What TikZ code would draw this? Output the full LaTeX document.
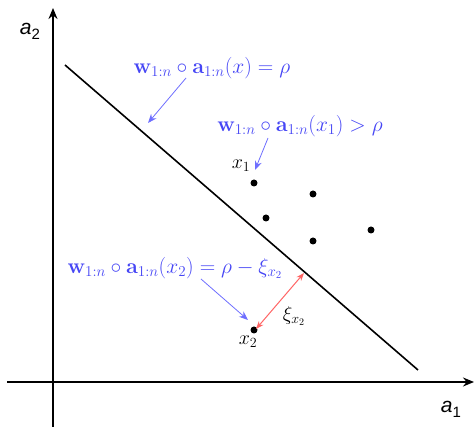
\documentclass[tikz,border=0pt]{standalone}
\usepackage{fix-cm}
\usepackage{amsmath}
\usepackage[no-math]{fontspec}
\newfontfamily\axisfont{Liberation Sans}
\usetikzlibrary{arrows.meta}
\definecolor{lblue}{RGB}{70,70,245}
\definecolor{ablue}{RGB}{110,110,255}
\definecolor{lred}{RGB}{255,100,100}
\tikzset{
  axis/.style={line width=1.6pt,-{Stealth[length=11pt,width=9pt]}},
  dot/.style={circle,fill=black,inner sep=0pt,minimum size=7pt},
  blab/.style={text=lblue,font=\fontsize{21.5}{25}\selectfont,inner sep=0pt},
  klab/.style={text=black,font=\fontsize{20}{24}\selectfont,inner sep=0pt},
  alab/.style={font=\axisfont\fontsize{21}{24}\selectfont,inner sep=0pt},
  barrow/.style={ablue,line width=0.8pt,-{Stealth[length=9pt,width=7pt]}},
  rarrow/.style={lred,line width=1pt,{Stealth[length=8pt,width=6pt]}-{Stealth[length=8pt,width=6pt]}},
}
\begin{document}
\begin{tikzpicture}[x=1pt,y=-1pt]
\useasboundingbox (0,0) rectangle (475,427);
% axes
\coordinate (yb) at (53,427);
\coordinate (yt) at (53,8);
\coordinate (xl) at (7,382);
\coordinate (xr) at (474,382);
\draw[axis] (yb) -- (yt);
\draw[axis] (xl) -- (xr);
\node[alab] (a2) at (30,31) {\itshape a\upshape\raisebox{-5pt}{\fontsize{15}{17}\selectfont 2}};
\node[alab] (a1) at (451,409) {\itshape a\upshape\raisebox{-5pt}{\fontsize{15}{17}\selectfont 1}};
% separating line
\coordinate (l1) at (65,65);
\coordinate (l2) at (418,370);
\draw[line width=1.6pt] (l1) -- (l2);
% points
\node[dot] (p1) at (254,183) {};
\node[dot] (p2) at (313,194) {};
\node[dot] (p3) at (266,218) {};
\node[dot] (p4) at (313,241) {};
\node[dot] (p5) at (371,230) {};
\node[dot] (px2) at (254,330) {};
\node[klab] (x1) at (241,166) {$x_1$};
\node[klab] (x2) at (248,342) {$x_2$};
% labels
\node[blab] (L1) at (212,68) {$\mathbf{w}_{1:n}\circ\mathbf{a}_{1:n}(x)=\rho$};
\node[blab] (L2) at (300,126) {$\mathbf{w}_{1:n}\circ\mathbf{a}_{1:n}(x_1)>\rho$};
\node[blab] (L3) at (175,268) {$\mathbf{w}_{1:n}\circ\mathbf{a}_{1:n}(x_2)=\rho-\xi_{x_2}$};
\node[klab] (xi) at (294,316) {$\xi_{x_2}$};
% arrows
\coordinate (s1) at (186,78);
\coordinate (e1) at (148,123);
\coordinate (s2) at (268,138);
\coordinate (e2) at (255,170);
\coordinate (s3) at (201,279);
\coordinate (e3) at (248,320);
\coordinate (r1) at (256,329);
\coordinate (r2) at (304,273);
\draw[barrow] (s1) -- (e1);
\draw[barrow] (s2) -- (e2);
\draw[barrow] (s3) -- (e3);
\draw[rarrow] (r1) -- (r2);
\end{tikzpicture}
\end{document}
